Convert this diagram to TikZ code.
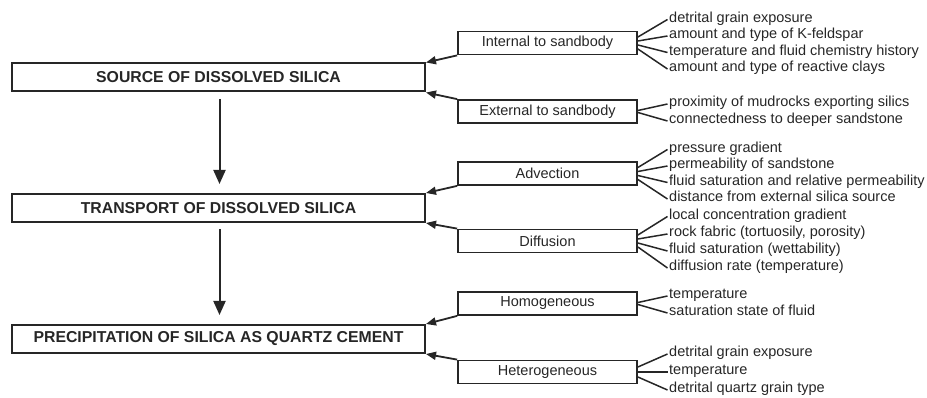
\documentclass[tikz,border=0pt]{standalone}
\usepackage{fontspec}
\setmainfont{Liberation Sans}
\usepackage{tikz}
\usetikzlibrary{arrows.meta}
\usetikzlibrary{positioning}
\tikzset{
  % Common sizes for the factor lists
  >={Triangle[length=10pt,width=8pt]},
  listfont/.style={font=\fontsize{14.5}{17}\selectfont}
}

\begin{document}
\begin{tikzpicture}[x=1pt, y=-1pt, color=black!85, text=black!85]
    % Define styles
    \tikzstyle{stage} = [rectangle, draw, line width=2pt, minimum width=413pt, minimum height=28pt, inner sep=0pt, font=\fontsize{15.8}{18}\selectfont\bfseries]
    \tikzstyle{factor} = [rectangle, draw, line width=1.8pt, minimum width=179pt, minimum height=23pt, inner sep=0pt, listfont]
    \tikzstyle{item} = [anchor=west, inner sep=0pt, text height=0.75em, text depth=0.22em, listfont]
    \tikzstyle{flow} = [draw, line width=2pt, -{Triangle[length=14pt,width=12pt]}]
    \tikzstyle{feed} = [draw, line width=1.8pt, ->]
    \tikzstyle{fan} = [draw, line width=1.5pt]

    \useasboundingbox (0,0) rectangle (927,398);

    % Place nodes
    \node [stage] (source) at (218.5,77.5) {SOURCE OF DISSOLVED SILICA};
    \node [stage] (transport) at (218.5,208) {TRANSPORT OF DISSOLVED SILICA};
    \node [stage] (precip) at (218.5,339) {PRECIPITATION OF SILICA AS QUARTZ CEMENT};

    \node [factor] (internal) at (547.5,43) {Internal to sandbody};
    \node [factor] (external) at (547.5,111.5) {External to sandbody};
    \node [factor] (advection) at (547.5,173.5) {Advection};
    \node [factor] (diffusion) at (547.5,241) {Diffusion};
    \node [factor] (homog) at (547.5,303.5) {Homogeneous};
    \node [factor] (heterog) at (547.5,372) {Heterogeneous};

    \node [item] (in1) at (669,19.5) {detrital grain exposure};
    \node [item] (in2) at (669,36) {amount and type of K-feldspar};
    \node [item] (in3) at (669,52.5) {temperature and fluid chemistry history};
    \node [item] (in4) at (669,69) {amount and type of reactive clays};
    \node [item] (ex1) at (669,104) {proximity of mudrocks exporting silics};
    \node [item] (ex2) at (669,121) {connectedness to deeper sandstone};
    \node [item] (ad1) at (669,149.5) {pressure gradient};
    \node [item] (ad2) at (669,166) {permeability of sandstone};
    \node [item] (ad3) at (669,182.5) {fluid saturation and relative permeability};
    \node [item] (ad4) at (669,199) {distance from external silica source};
    \node [item] (di1) at (669,216.5) {local concentration gradient};
    \node [item] (di2) at (669,234) {rock fabric (tortuosily, porosity)};
    \node [item] (di3) at (669,251) {fluid saturation (wettability)};
    \node [item] (di4) at (669,268) {diffusion rate (temperature)};
    \node [item] (ho1) at (669,296) {temperature};
    \node [item] (ho2) at (669,313) {saturation state of fluid};
    \node [item] (he1) at (669,354) {detrital grain exposure};
    \node [item] (he2) at (669,372) {temperature};
    \node [item] (he3) at (669,390) {detrital quartz grain type};

    % Draw edges
    \path [flow] ([xshift=1pt,yshift=-6.5pt]source.south) -- ([xshift=1pt,yshift=9pt]transport.north);
    \path [flow] ([xshift=1pt,yshift=-6.5pt]transport.south) -- ([xshift=1pt,yshift=9pt]precip.north);

    \path [feed] (internal.south west) -- (source.north east);
    \path [feed] (external.north west) -- (source.south east);
    \path [feed] (advection.south west) -- (transport.north east);
    \path [feed] (diffusion.north west) -- (transport.south east);
    \path [feed] (homog.south west) -- (precip.north east);
    \path [feed] (heterog.north west) -- (precip.south east);

    \path [fan] ([yshift=6pt]internal.east) -- ([xshift=-1.5pt]in1.west);
    \path [fan] ([yshift=2pt]internal.east) -- ([xshift=-1.5pt]in2.west);
    \path [fan] ([yshift=-2pt]internal.east) -- ([xshift=-1.5pt]in3.west);
    \path [fan] ([yshift=-6pt]internal.east) -- ([xshift=-1.5pt]in4.west);
    \path [fan] ([yshift=1pt]external.east) -- ([xshift=-1.5pt]ex1.west);
    \path [fan] ([yshift=-1pt]external.east) -- ([xshift=-1.5pt]ex2.west);
    \path [fan] ([yshift=6pt]advection.east) -- ([xshift=-1.5pt]ad1.west);
    \path [fan] ([yshift=2pt]advection.east) -- ([xshift=-1.5pt]ad2.west);
    \path [fan] ([yshift=-2pt]advection.east) -- ([xshift=-1.5pt]ad3.west);
    \path [fan] ([yshift=-6pt]advection.east) -- ([xshift=-1.5pt]ad4.west);
    \path [fan] ([yshift=6pt]diffusion.east) -- ([xshift=-1.5pt]di1.west);
    \path [fan] ([yshift=2pt]diffusion.east) -- ([xshift=-1.5pt]di2.west);
    \path [fan] ([yshift=-2pt]diffusion.east) -- ([xshift=-1.5pt]di3.west);
    \path [fan] ([yshift=-6pt]diffusion.east) -- ([xshift=-1.5pt]di4.west);
    \path [fan] ([yshift=1pt]homog.east) -- ([xshift=-1.5pt]ho1.west);
    \path [fan] ([yshift=-1pt]homog.east) -- ([xshift=-1.5pt]ho2.west);
    \path [fan] ([yshift=5pt]heterog.east) -- ([xshift=-1.5pt]he1.west);
    \path [fan] (heterog.east) -- ([xshift=-1.5pt]he2.west);
    \path [fan] ([yshift=-5pt]heterog.east) -- ([xshift=-1.5pt]he3.west);

\end{tikzpicture}
\end{document}
